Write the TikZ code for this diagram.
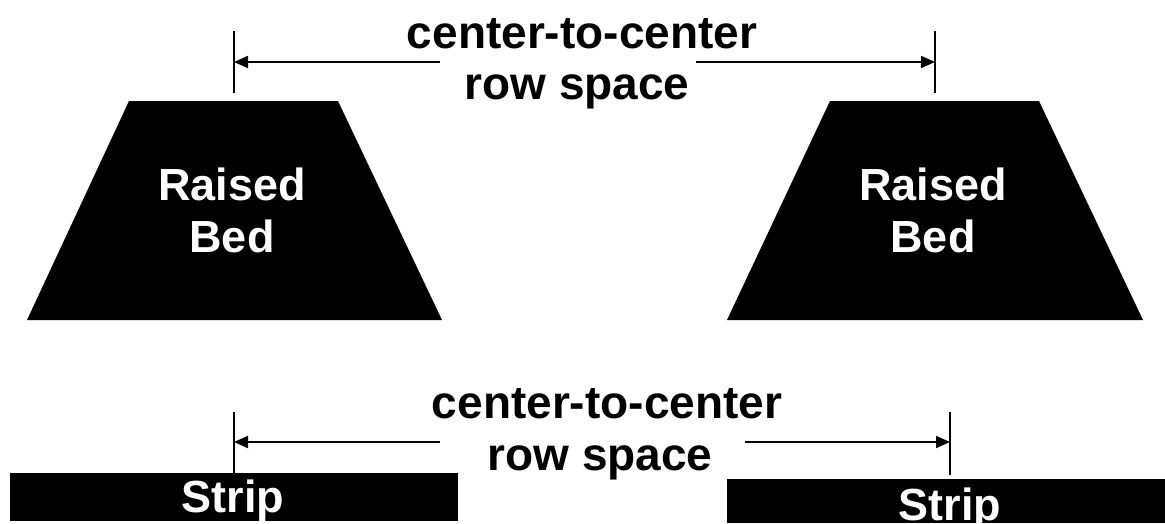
\documentclass[tikz,border=0pt]{standalone}
\usepackage{fontspec}
\setmainfont{Liberation Sans}
\usetikzlibrary{arrows.meta}
\begin{document}
\begin{tikzpicture}[x=1pt,y=-1pt,
  lbl/.style={font=\fontsize{46}{50}\selectfont\bfseries, anchor=base, inner sep=0pt},
  wlbl/.style={font=\fontsize{45}{50}\selectfont\bfseries, text=white, anchor=base, inner sep=0pt},
  tickline/.style={line width=1.8pt},
  dimline/.style={line width=1.8pt, -{Triangle[length=14pt,width=12pt]}},
  bed/.style={fill=black}]
\useasboundingbox (0,0) rectangle (1165,523);

% raised beds
\fill[bed] (129,101) -- (338,101) -- (442,320) -- (27,320) -- cycle;
\fill[bed] (830,101) -- (1039,101) -- (1143,320) -- (727,320) -- cycle;
\node[wlbl] (rb1a) at (232,200) {Raised};
\node[wlbl] (rb1b) at (232,252) {Bed};
\node[wlbl] (rb2a) at (933,200) {Raised};
\node[wlbl] (rb2b) at (933,252) {Bed};

% strips
\fill[bed] (10,473) rectangle (458,521);
\fill[bed] (727,479) rectangle (1165,523);
\node[wlbl] (s1) at (233,512) {Strip};
\node[wlbl] (s2) at (950,520) {Strip};

% top dimension
\node[lbl] (t1) at (582,48) {center-to-center};
\node[lbl] (t2) at (577,99) {row space};
\coordinate (tl1) at (234,31); \coordinate (tl2) at (234,93);
\coordinate (tr1) at (935,31); \coordinate (tr2) at (935,93);
\draw[tickline] (tl1) -- (tl2);
\draw[tickline] (tr1) -- (tr2);
\coordinate (ta) at (440,62); \coordinate (taend) at (234,62);
\coordinate (tb) at (696,62); \coordinate (tbend) at (935,62);
\draw[dimline] (ta) -- (taend);
\draw[dimline] (tb) -- (tbend);

% bottom dimension
\node[lbl] (b1) at (607,418) {center-to-center};
\node[lbl] (b2) at (600,470) {row space};
\coordinate (bl1) at (234,412); \coordinate (bl2) at (234,473);
\coordinate (br1) at (950,412); \coordinate (br2) at (950,475);
\draw[tickline] (bl1) -- (bl2);
\draw[tickline] (br1) -- (br2);
\coordinate (ba) at (440,442); \coordinate (baend) at (234,442);
\coordinate (bb) at (745,442); \coordinate (bbend) at (950,442);
\draw[dimline] (ba) -- (baend);
\draw[dimline] (bb) -- (bbend);
\end{tikzpicture}
\end{document}
